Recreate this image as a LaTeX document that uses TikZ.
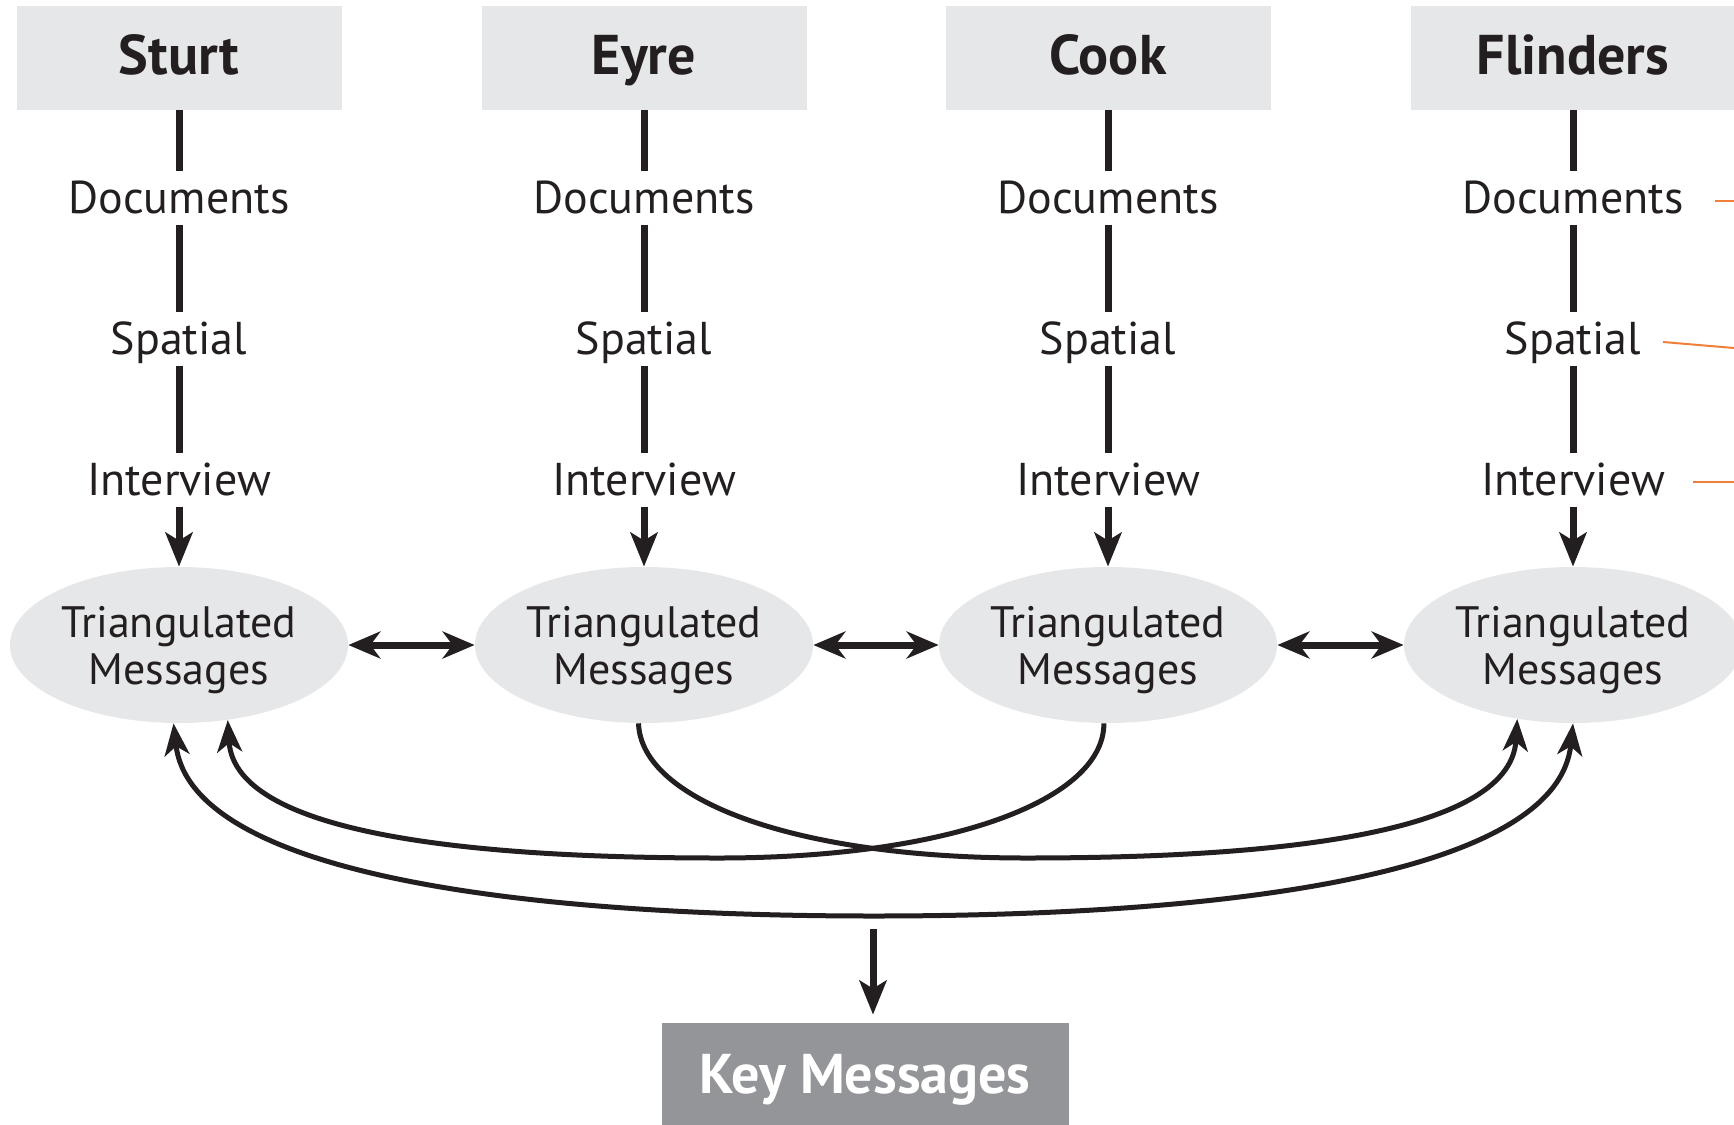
\documentclass[tikz,border=0pt]{standalone}
\usepackage{fontspec}
\setmainfont{PT Sans}
\usetikzlibrary{arrows.meta,shapes.geometric,calc}
\definecolor{boxgray}{HTML}{E6E7E8}
\definecolor{keygray}{HTML}{939598}
\definecolor{txt}{HTML}{231F20}
\definecolor{lead}{HTML}{F07F3A}
\begin{document}
\begin{tikzpicture}[x=0.5pt,y=-0.5pt,
 hdr/.style={fill=boxgray, minimum width=162.5pt, minimum height=52pt, inner sep=0pt,
   font=\fontsize{28}{30}\selectfont\bfseries, text=txt, text height=19.6pt, text depth=3pt},
 lvl/.style={inner xsep=2pt, inner ysep=5.3pt, text height=15.6pt, text depth=0pt,
   font=\fontsize{23}{26}\selectfont, text=txt},
 tri/.style={ellipse, fill=boxgray, minimum width=169pt, minimum height=78pt, inner sep=0pt,
   align=center, font=\fontsize{22}{23.5}\selectfont, text=txt, text height=39.4pt, text depth=0pt},
 stem/.style={line width=3.5pt, draw=txt},
 into/.style={stem, -{Stealth[length=17pt,width=13.5pt,inset=4pt]}},
 both/.style={stem, {Stealth[length=16pt,width=13.5pt,inset=5pt]}-{Stealth[length=16pt,width=13.5pt,inset=5pt]}},
 link/.style={line width=2.5pt, draw=txt},
 linkarr/.style={link, -{Stealth[length=16pt,width=12.5pt,inset=4.5pt]}},
 linkboth/.style={link, {Stealth[length=16pt,width=12.5pt,inset=4.5pt]}-{Stealth[length=16pt,width=12.5pt,inset=4.5pt]}},
 keybox/.style={fill=keygray, minimum width=203.5pt, minimum height=51pt, inner sep=0pt,
   text=white, font=\fontsize{28}{30}\selectfont\bfseries, text height=19pt, text depth=0pt},
 leader/.style={draw=lead, line width=1pt}
]
\useasboundingbox (0,0) rectangle (1734,1124);

\foreach \n/\x/\name in {1/179/Sturt, 2/644/Eyre, 3/1108/Cook, 4/1573/Flinders}{
  \node[hdr] (h\n) at (\x,58) {\name};
  \node[lvl] (d\n) at (\x,198) {Documents};
  \node[lvl] (s\n) at (\x,339) {Spatial};
  \node[lvl] (i\n) at (\x,480) {Interview};
  \node[tri] (t\n) at (\x,645) {Triangulated\\Messages};
  \draw[stem] (h\n) -- (d\n);
  \draw[stem] (d\n) -- (s\n);
  \draw[stem] (s\n) -- (i\n);
  \draw[into] (i\n) -- (t\n);
}

\draw[both] (t1) -- (t2);
\draw[both] (t2) -- (t3);
\draw[both] (t3) -- (t4);

% outer curve Sturt <-> Flinders
\draw[linkboth] (t1.-94) .. controls (190,870) and (500,916) .. (874,916)
   .. controls (1250,916) and (1558,870) .. (t4.-90);
% Cook -> Sturt (inner)
\draw[linkarr] (t3.-93) .. controls (1104,800) and (950,858) .. (719,858)
   .. controls (500,858) and (235,840) .. (t1.-57);
% Eyre -> Flinders (inner)
\draw[linkarr] (t2.-94) .. controls (641,800) and (795,858) .. (1026,858)
   .. controls (1245,858) and (1510,840) .. (t4.-127);

\node[keybox] (key) at (865,1074) {Key Messages};
\coordinate (kstart) at (873,929);
\draw[into, shorten >=4pt] (kstart) -- (kstart |- key.north);

% orange leaders to the right edge
\coordinate (la1) at (1715,201); \coordinate (lb1) at (1734,201);
\coordinate (la2) at (1663,342); \coordinate (lb2) at (1734,348);
\coordinate (la3) at (1693,482); \coordinate (lb3) at (1734,482);
\draw[leader] (la1) -- (lb1);
\draw[leader] (la2) -- (lb2);
\draw[leader] (la3) -- (lb3);
\end{tikzpicture}
\end{document}
